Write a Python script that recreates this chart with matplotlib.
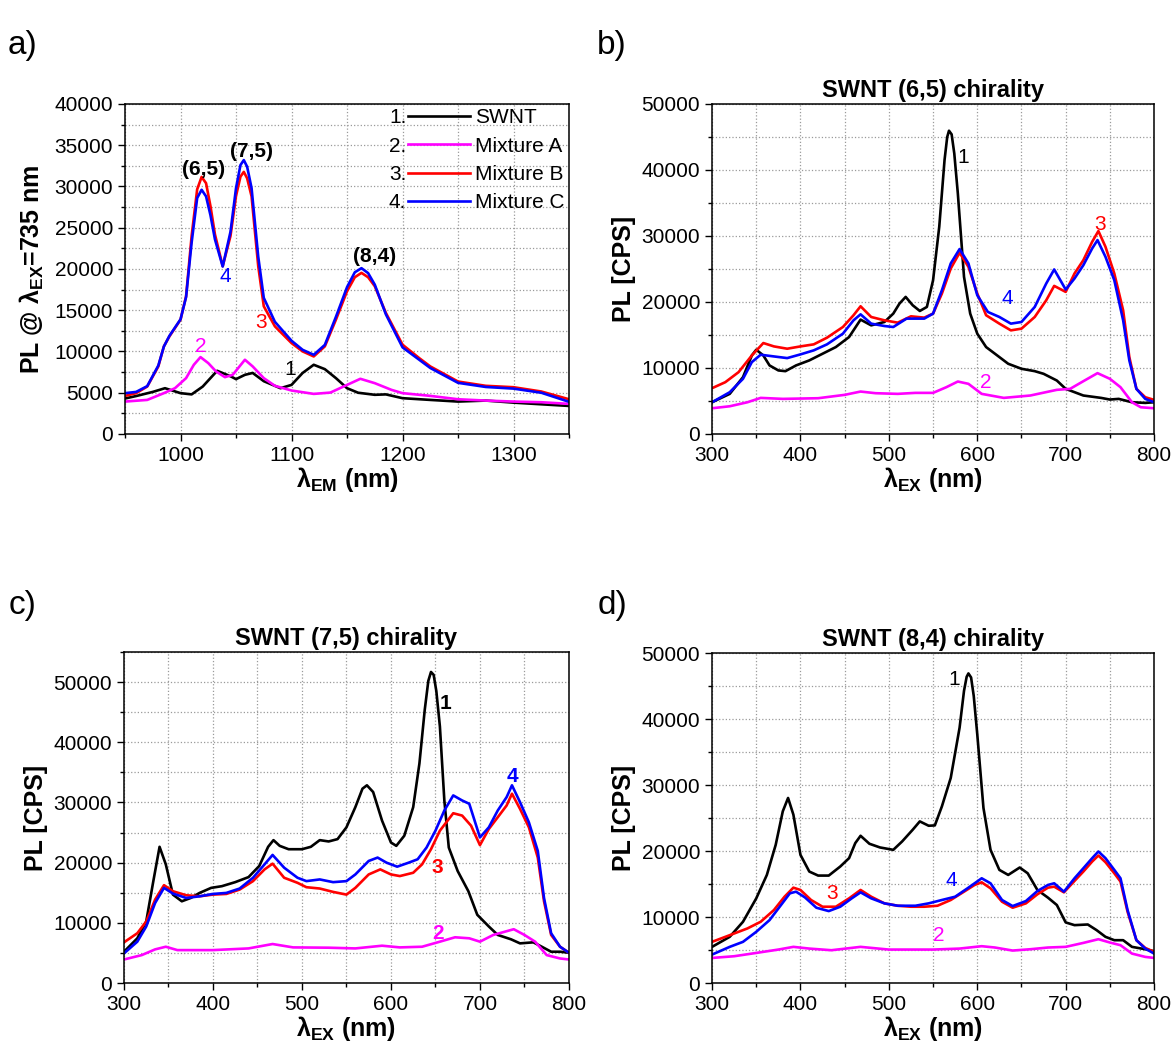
import matplotlib
matplotlib.use("Agg")
import matplotlib.pyplot as plt
from matplotlib.ticker import MultipleLocator
from matplotlib.legend_handler import HandlerBase
from matplotlib.lines import Line2D
from matplotlib.text import Text

plt.rcParams['font.family'] = ['Liberation Sans', 'DejaVu Sans']
plt.rcParams['mathtext.fontset'] = 'custom'
plt.rcParams['mathtext.rm'] = 'Liberation Sans'
plt.rcParams['mathtext.bf'] = 'Liberation Sans:bold'
plt.rcParams['mathtext.it'] = 'Liberation Sans:italic'

names = ['SWNT', 'Mixture A', 'Mixture B', 'Mixture C']
colors = ['black', '#ff00ff', '#ff0000', '#0000ff']

# ---- a) emission spectra at lambda_ex = 735 nm
a_x1 = [950, 960, 975, 986, 1000, 1010, 1020, 1033, 1045, 1050, 1058, 1065, 1075, 1090, 1100, 1110, 1120, 1130,
        1140, 1150, 1160, 1175, 1185, 1200, 1225, 1250, 1275, 1300, 1325, 1350]
a_y1 = [4300, 4600, 5100, 5550, 4950, 4800, 5750, 7660, 7000, 6650, 7170, 7400, 6400, 5550, 5950, 7400, 8390, 7860,
        6770, 5550, 5000, 4750, 4800, 4340, 4130, 3930, 4050, 3800, 3600, 3400]
a_x2 = [950, 970, 985, 995, 1005, 1012, 1018, 1025, 1032, 1040, 1047, 1058, 1065, 1075, 1085, 1100, 1120, 1135,
        1150, 1162, 1175, 1190, 1200, 1225, 1250, 1275, 1300, 1325, 1350]
a_y2 = [3930, 4130, 4950, 5550, 6770, 8390, 9320, 8590, 7580, 6890, 7170, 9000, 8190, 6770, 5840, 5270, 4860, 5020,
        5950, 6690, 6160, 5350, 4950, 4620, 4210, 4050, 3930, 3850, 3650]
a_x3 = [950, 960, 970, 980, 985, 990, 1000, 1005, 1010, 1015, 1019, 1023, 1027, 1031, 1038, 1045, 1050, 1054, 1057,
        1060, 1064, 1070, 1075, 1085, 1100, 1110, 1120, 1130, 1140, 1150, 1157, 1163, 1169, 1175, 1185, 1200,
        1215, 1225, 1250, 1275, 1300, 1325, 1350]
a_y3 = [4620, 4950, 5750, 8190, 10620, 11830, 13860, 16690, 24000, 29660, 31160, 30400, 27600, 24200, 20340, 24000,
        28860, 31200, 31770, 31000, 28800, 20340, 15480, 13050, 11020, 10010, 9400, 10620, 13860, 17300, 19000,
        19530, 19000, 17910, 14670, 10820, 9200, 8190, 6360, 5840, 5670, 5150, 4210]
a_x4 = a_x3
a_y4 = [4950, 5100, 5800, 8300, 10600, 11900, 13900, 16600, 23200, 28600, 29600, 28800, 26500, 23600, 20300, 24500,
        29800, 32600, 33200, 32400, 29800, 21500, 16500, 13600, 11300, 10200, 9600, 10800, 14200, 17800, 19600,
        20100, 19500, 18100, 14500, 10500, 9000, 8000, 6200, 5700, 5500, 5000, 3900]

# ---- b) SWNT (6,5)
b_x1 = [300, 320, 335, 345, 350, 358, 365, 375, 383, 395, 410, 425, 440, 455, 468, 480, 495, 505, 512, 519, 527,
        535, 543, 550, 557, 563, 566, 568, 571, 574, 578, 585, 592, 600, 610, 620, 635, 650, 665, 675, 690, 700,
        720, 740, 750, 760, 775, 790, 800]
b_y1 = [4810, 6080, 8610, 11900, 12770, 11900, 10390, 9630, 9520, 10390, 11150, 12160, 13170, 14690, 17330, 16460,
        16970, 18240, 19760, 20770, 19500, 18640, 19250, 23300, 31410, 41540, 45000, 45950, 45400, 42500, 36470,
        23810, 18240, 15200, 13170, 12160, 10640, 9880, 9520, 9120, 8100, 6840, 5830, 5470, 5220, 5320, 4810,
        4710, 4810]
b_x2 = [300, 320, 340, 355, 380, 420, 450, 468, 485, 510, 530, 550, 565, 578, 590, 605, 630, 660, 690, 705, 720,
        736, 750, 762, 775, 785, 800]
b_y2 = [3900, 4200, 4810, 5470, 5320, 5420, 5930, 6430, 6180, 6080, 6230, 6230, 7090, 7950, 7600, 6080, 5470, 5830,
        6690, 6840, 8000, 9220, 8360, 7090, 4810, 4050, 3900]
b_x3 = [300, 315, 330, 345, 358, 370, 385, 400, 415, 430, 448, 460, 468, 480, 495, 510, 525, 540, 550, 560, 570,
        580, 590, 600, 610, 625, 638, 650, 665, 678, 687, 700, 710, 720, 730, 737, 745, 755, 765, 772, 780, 790, 800]
b_y3 = [6940, 7850, 9370, 11900, 13780, 13270, 12920, 13270, 13580, 14590, 16210, 17990, 19350, 17730, 17220, 16870,
        17830, 17630, 18240, 21280, 25080, 27460, 25330, 21280, 17990, 16720, 15700, 15960, 17730, 20260, 22440,
        21530, 24320, 26340, 29130, 30750, 28370, 24320, 18740, 11650, 6840, 5570, 5170]
b_x4 = [300, 320, 335, 345, 355, 370, 385, 400, 415, 430, 448, 460, 468, 480, 495, 505, 520, 540, 550, 560, 570,
        580, 590, 600, 612, 625, 638, 650, 665, 678, 687, 700, 710, 720, 730, 736, 745, 755, 765, 772, 780, 790, 800]
b_y4 = [4810, 6330, 8360, 10890, 12010, 11750, 11500, 12060, 12670, 13580, 15200, 17220, 18130, 16720, 16360, 16210,
        17480, 17480, 18240, 21780, 25840, 28020, 25840, 21020, 18490, 17730, 16720, 16970, 19250, 22800, 24930,
        21890, 23560, 25580, 28120, 29380, 26850, 23300, 17220, 11140, 6840, 5320, 4810]

# ---- c) SWNT (7,5)
c_x1 = [300, 315, 325, 333, 340, 347, 355, 365, 375, 385, 398, 410, 425, 440, 452, 462, 468, 475, 485, 500, 510,
        520, 530, 540, 550, 560, 568, 573, 580, 590, 600, 606, 615, 625, 632, 638, 642, 645, 648, 651, 655, 660,
        665, 675, 687, 697, 710, 720, 735, 745, 760, 768, 780, 790, 800]
c_y1 = [5200, 7430, 10220, 16930, 22630, 19720, 14690, 13580, 14130, 14970, 15810, 16090, 16760, 17600, 19440, 22630,
        23740, 22790, 22230, 22230, 22630, 23740, 23520, 23910, 25870, 29220, 32290, 32850, 31730, 26980, 23350,
        22790, 24470, 29220, 36480, 45420, 50200, 51680, 51200, 48500, 42630, 30330, 22510, 18600, 15250, 11340,
        9390, 7990, 7260, 6590, 6760, 6150, 5200, 5200, 5030]
c_x2 = [300, 320, 335, 347, 360, 400, 440, 467, 490, 530, 560, 590, 610, 635, 655, 672, 688, 700, 715, 738, 750,
        762, 775, 790, 800]
c_y2 = [3910, 4640, 5590, 6030, 5470, 5470, 5750, 6480, 5920, 5870, 5750, 6200, 5920, 6030, 6870, 7600, 7430, 6870,
        7990, 8940, 7990, 6870, 4640, 4080, 3910]
c_x3 = [300, 315, 325, 335, 345, 355, 370, 385, 400, 415, 430, 445, 458, 467, 480, 495, 505, 520, 535, 550, 560,
        575, 588, 600, 610, 625, 635, 645, 655, 670, 680, 690, 700, 710, 720, 730, 736, 745, 755, 765, 772, 780,
        790, 800]
c_y3 = [6760, 8270, 10220, 13860, 16260, 15250, 14580, 14410, 14690, 14800, 15530, 16930, 18880, 19830, 17490, 16650,
        15920, 15700, 15140, 14690, 15810, 18040, 18880, 18040, 17770, 18320, 19720, 22230, 25310, 28210, 27820,
        26150, 22910, 25590, 27540, 29500, 31450, 28940, 25870, 20840, 13580, 7990, 6030, 5030]
c_x4 = [300, 315, 325, 335, 345, 355, 370, 385, 400, 415, 430, 445, 458, 467, 480, 495, 505, 520, 535, 550, 560,
        575, 585, 595, 607, 620, 630, 640, 650, 660, 670, 680, 688, 700, 710, 720, 730, 736, 745, 755, 765, 772,
        780, 790, 800]
c_y4 = [4920, 6870, 9390, 13300, 15810, 14860, 14130, 14410, 14800, 14970, 15700, 17490, 19720, 21280, 19160, 17490,
        16930, 17210, 16760, 16930, 18040, 20280, 20840, 20000, 19330, 20000, 20560, 22510, 25310, 28660, 31170,
        30330, 29780, 24190, 25870, 28660, 30890, 32850, 30060, 26700, 21950, 14130, 8270, 6030, 5030]

# ---- d) SWNT (8,4)
d_x1 = [300, 320, 335, 350, 362, 372, 380, 386, 392, 400, 410, 420, 432, 445, 455, 462, 468, 478, 490, 505, 515,
        527, 535, 545, 552, 560, 570, 580, 585, 588, 590, 593, 596, 600, 607, 615, 625, 635, 648, 657, 668, 680,
        690, 700, 710, 725, 735, 745, 755, 765, 775, 790, 800]
d_y1 = [5480, 7000, 9280, 12830, 16380, 20940, 26010, 28040, 25510, 19420, 16890, 16280, 16280, 17650, 18920, 21200,
        22310, 21100, 20540, 20180, 21450, 23230, 24490, 23830, 23880, 26770, 31080, 38690, 44270, 46400, 46910,
        46300, 43500, 37680, 26520, 20180, 17140, 16380, 17500, 16630, 14100, 12930, 11820, 9180, 8770, 8870,
        8010, 7000, 6490, 6490, 5480, 5120, 4820]
d_x2 = [300, 325, 350, 375, 392, 410, 435, 468, 500, 550, 580, 605, 620, 640, 660, 680, 700, 720, 737, 750, 762,
        775, 790, 800]
d_y2 = [3800, 4060, 4560, 5070, 5480, 5220, 4970, 5480, 5070, 5070, 5220, 5580, 5380, 4920, 5120, 5380, 5480, 6080,
        6640, 6140, 5730, 4460, 3960, 3800]
d_x3 = [300, 320, 340, 355, 370, 382, 392, 400, 412, 425, 440, 455, 468, 480, 495, 510, 525, 540, 555, 570, 585,
        597, 605, 615, 628, 640, 655, 668, 680, 687, 698, 710, 720, 730, 737, 745, 755, 762, 770, 780, 790, 800]
d_y3 = [6240, 7250, 8270, 9280, 11060, 13080, 14450, 14100, 12580, 11560, 11560, 12830, 14100, 13080, 12070, 11710,
        11560, 11560, 11710, 12580, 13840, 14860, 15260, 14350, 12320, 11410, 12070, 13440, 14450, 14600, 13740,
        15470, 16890, 18410, 19320, 18310, 16630, 15370, 10800, 6490, 5320, 4720]
d_x4 = [300, 320, 335, 350, 365, 378, 388, 395, 405, 418, 432, 445, 458, 468, 480, 495, 510, 530, 545, 560, 575,
        590, 605, 615, 628, 640, 655, 668, 680, 687, 698, 710, 720, 730, 737, 745, 755, 762, 770, 780, 790, 800]
d_y4 = [4310, 5480, 6240, 7760, 9530, 11820, 13590, 13840, 12980, 11410, 10900, 11560, 12830, 13740, 12830, 12070,
        11710, 11710, 12070, 12580, 13080, 14450, 15870, 15110, 12580, 11660, 12420, 13940, 14860, 15110, 13840,
        15870, 17390, 18920, 19930, 18920, 17140, 15870, 11060, 6490, 5220, 4460]

# curve number labels: (text, x, y, curve index)
a_notes = [('1', 1099, 7780, 0), ('2', 1018, 10620, 1), ('3', 1073, 13540, 2), ('4', 1040, 19050, 3)]
a_peaks = [('(6,5)', 1021, 32100), ('(7,5)', 1064, 34200), ('(8,4)', 1175, 21560)]
b_notes = [('1', 584, 41900, 0), ('2', 610, 7850, 1), ('3', 739, 31810, 2), ('4', 634, 20520, 3)]
c_notes = [('1', 661, 46420, 0), ('2', 653, 8270, 1), ('3', 652, 19160, 2), ('4', 736, 34250, 3)]
d_notes = [('1', 574, 45940, 0), ('2', 556, 7250, 1), ('3', 436, 13590, 2), ('4', 571, 15470, 3)]


class NumberedLine(HandlerBase):
    # legend entry drawn as "1." followed by a short line
    def __init__(self, num):
        super().__init__()
        self.num = num

    def create_artists(self, legend, orig_handle, xdescent, ydescent, width, height, fontsize, trans):
        y = height / 2.0 - ydescent
        x0 = -xdescent
        t = Text(x0, y, self.num, fontsize=fontsize, ha='left', va='center_baseline', transform=trans)
        ln = Line2D([x0 + 0.24 * width, x0 + width], [y, y], color=orig_handle.get_color(),
                    lw=orig_handle.get_linewidth(), transform=trans)
        return [t, ln]


def style(ax, xlim, ylim, xmaj, xmin, ymaj, ymin):
    ax.set_xlim(*xlim)
    ax.set_ylim(*ylim)
    ax.xaxis.set_major_locator(MultipleLocator(xmaj))
    ax.xaxis.set_minor_locator(MultipleLocator(xmin))
    ax.yaxis.set_major_locator(MultipleLocator(ymaj))
    ax.yaxis.set_minor_locator(MultipleLocator(ymin))
    ax.grid(True, which='both', ls=':', color='#9a9a9a', lw=0.9)
    ax.set_axisbelow(True)
    ax.tick_params(which='both', direction='out', top=False, right=False, labelsize=15)
    ax.tick_params(which='major', length=5, width=1)
    ax.tick_params(which='minor', length=3, width=1)
    for s in ax.spines.values():
        s.set_linewidth(1.1)


fig = plt.figure(figsize=(11.75, 10.43), dpi=100)
axa = fig.add_axes([0.1064, 0.5839, 0.3779, 0.3164])
axb = fig.add_axes([0.6060, 0.5839, 0.3762, 0.3164])
axc = fig.add_axes([0.1055, 0.0575, 0.3787, 0.3174])
axd = fig.add_axes([0.6060, 0.0575, 0.3762, 0.3164])

panels = [
    (axa, [(a_x1, a_y1), (a_x2, a_y2), (a_x3, a_y3), (a_x4, a_y4)]),
    (axb, [(b_x1, b_y1), (b_x2, b_y2), (b_x3, b_y3), (b_x4, b_y4)]),
    (axc, [(c_x1, c_y1), (c_x2, c_y2), (c_x3, c_y3), (c_x4, c_y4)]),
    (axd, [(d_x1, d_y1), (d_x2, d_y2), (d_x3, d_y3), (d_x4, d_y4)]),
]
lines_a = []
for ax, curves in panels:
    for i, (xs, ys) in enumerate(curves):
        ln, = ax.plot(xs, ys, color=colors[i], lw=1.9, solid_joinstyle='round')
        if ax is axa:
            lines_a.append(ln)

style(axa, (950, 1350), (0, 40000), 100, 50, 5000, 2500)
style(axb, (300, 800), (0, 50000), 100, 50, 10000, 5000)
style(axc, (300, 800), (0, 55000), 100, 50, 10000, 5000)
style(axd, (300, 800), (0, 50000), 100, 50, 10000, 5000)

# legend of panel a
axa.legend(lines_a, names, handler_map={ln: NumberedLine('%d.' % (i + 1)) for i, ln in enumerate(lines_a)},
           loc='upper right', frameon=False, fontsize=15, handlelength=3.9, handletextpad=0.25,
           labelspacing=0.45, borderaxespad=0.1, borderpad=0.1)

for txt, x, y, i in a_notes:
    axa.text(x, y, txt, color=colors[i], fontsize=15, ha='center', va='center')
for txt, x, y in a_peaks:
    axa.text(x, y, txt, color='black', fontsize=15, fontweight='bold', ha='center', va='center')
for txt, x, y, i in b_notes:
    axb.text(x, y, txt, color=colors[i], fontsize=15, ha='center', va='center')
for txt, x, y, i in c_notes:
    axc.text(x, y, txt, color=colors[i], fontsize=15, fontweight='bold', ha='center', va='center')
for txt, x, y, i in d_notes:
    axd.text(x, y, txt, color=colors[i], fontsize=15, ha='center', va='center')

axa.set_ylabel(r'PL @ λ$_\mathbf{EX}$=735 nm', fontsize=18, fontweight='bold', labelpad=6)
axa.set_xlabel(r'λ$_\mathbf{EM}$ (nm)', fontsize=18, fontweight='bold', labelpad=0)
for ax, title in [(axb, 'SWNT (6,5) chirality'), (axc, 'SWNT (7,5) chirality'), (axd, 'SWNT (8,4) chirality')]:
    ax.set_title(title, fontsize=17, fontweight='bold', pad=5)
    ax.set_ylabel('PL [CPS]', fontsize=18, fontweight='bold', labelpad=4)
    ax.set_xlabel(r'λ$_\mathbf{EX}$ (nm)', fontsize=18, fontweight='bold', labelpad=0)

fig.text(0.019, 0.956, 'a)', fontsize=24, ha='center', va='center')
fig.text(0.521, 0.956, 'b)', fontsize=24, ha='center', va='center')
fig.text(0.019, 0.419, 'c)', fontsize=24, ha='center', va='center')
fig.text(0.521, 0.419, 'd)', fontsize=24, ha='center', va='center')

fig.savefig('out.png', dpi=100)
